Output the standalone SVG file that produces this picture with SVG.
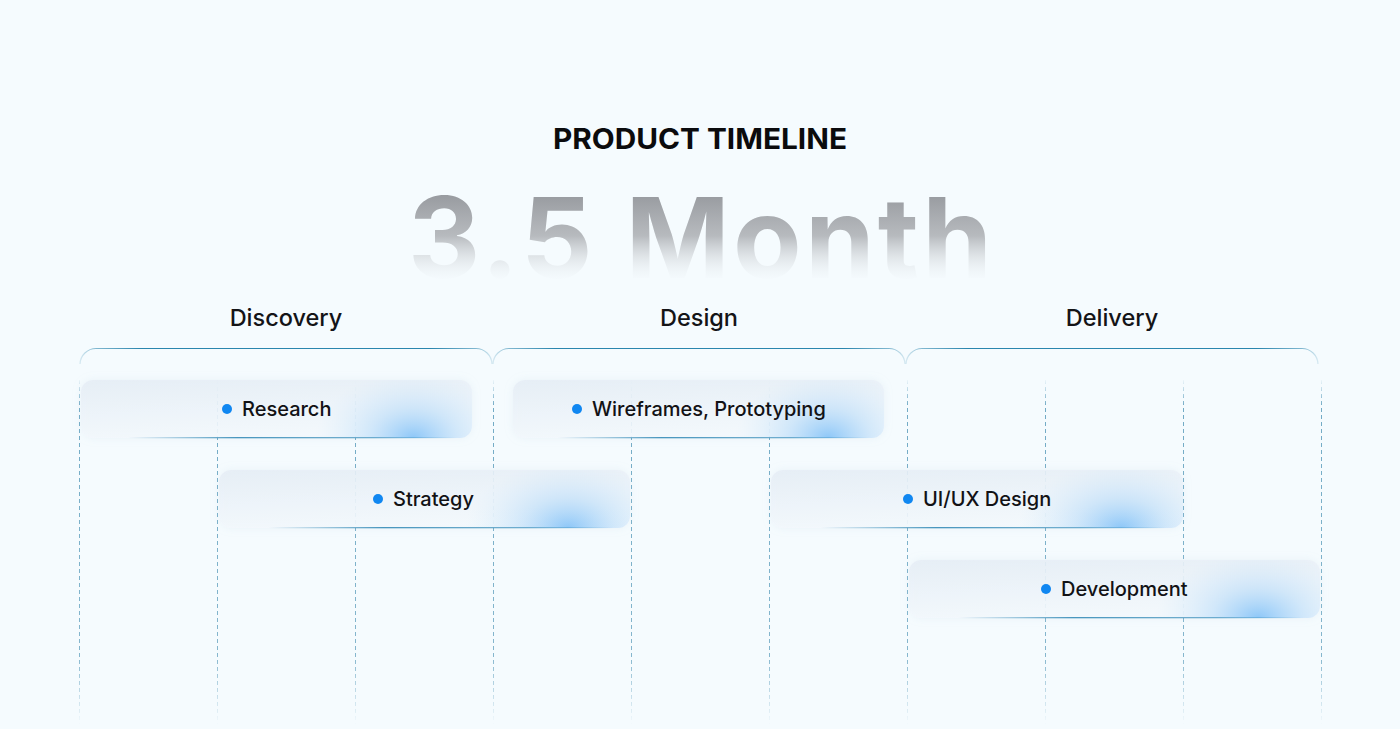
<svg xmlns="http://www.w3.org/2000/svg" width="1400" height="729" viewBox="0 0 1400 729">
  <defs>
    <style>
      .title { font-family: Inter, "Liberation Sans", sans-serif; font-weight: 700; font-size: 28px; fill: #0b0b0d; }
      .big { font-family: Inter, "Liberation Sans", sans-serif; font-weight: 700; font-size: 112px; fill: url(#bigFill); }
      .phase { font-family: Inter, "Liberation Sans", sans-serif; font-weight: 500; font-size: 23.5px; fill: #141417; }
      .task { font-family: Inter, "Liberation Sans", sans-serif; font-weight: 500; font-size: 20px; fill: #121215; }
      .dot { fill: #1087f1; }
      .bracket { fill: none; stroke: url(#bracketStroke); stroke-width: 1.2; }
      .grid line { stroke: url(#gridStroke); stroke-width: 1; stroke-dasharray: 4 3; }
      .bar { fill: url(#barFill); filter: url(#shadow); }
      .glow { fill: url(#glowFill); }
      .edge { fill: url(#edgeFill); }
    </style>
    <linearGradient id="bigFill" gradientUnits="userSpaceOnUse" x1="0" y1="190" x2="0" y2="282">
      <stop offset="0" stop-color="#94979c" stop-opacity="1"/>
      <stop offset="0.5" stop-color="#b0b3b7" stop-opacity="0.9"/>
      <stop offset="1" stop-color="#e9eef2" stop-opacity="0"/>
    </linearGradient>
    <linearGradient id="bracketStroke" x1="0" y1="0" x2="1" y2="0">
      <stop offset="0" stop-color="#1f7fa9" stop-opacity="0.15"/>
      <stop offset="0.04" stop-color="#1f7fa9" stop-opacity="0.55"/>
      <stop offset="0.15" stop-color="#1f7fa9" stop-opacity="0.95"/>
      <stop offset="0.85" stop-color="#1f7fa9" stop-opacity="0.95"/>
      <stop offset="0.96" stop-color="#1f7fa9" stop-opacity="0.55"/>
      <stop offset="1" stop-color="#1f7fa9" stop-opacity="0.15"/>
    </linearGradient>
    <linearGradient id="gridStroke" gradientUnits="userSpaceOnUse" x1="0" y1="378" x2="0" y2="725">
      <stop offset="0" stop-color="#3a88ad" stop-opacity="0"/>
      <stop offset="0.08" stop-color="#3a88ad" stop-opacity="0.7"/>
      <stop offset="0.8" stop-color="#3a88ad" stop-opacity="0.6"/>
      <stop offset="1" stop-color="#3a88ad" stop-opacity="0"/>
    </linearGradient>
    <linearGradient id="barFill" x1="0" y1="0" x2="0.3" y2="1">
      <stop offset="0" stop-color="#e6eef6" stop-opacity="0.9"/>
      <stop offset="1" stop-color="#f4f9fd" stop-opacity="0.9"/>
    </linearGradient>
    <radialGradient id="glowFill" cx="0" cy="0" r="1" gradientTransform="translate(0.85 1) scale(0.25 1.15)">
      <stop offset="0" stop-color="#62b2f6" stop-opacity="0.7"/>
      <stop offset="0.45" stop-color="#93c9f7" stop-opacity="0.35"/>
      <stop offset="1" stop-color="#c6e3fa" stop-opacity="0"/>
    </radialGradient>
    <linearGradient id="edgeFill" x1="0" y1="0" x2="1" y2="0">
      <stop offset="0.12" stop-color="#2a85b3" stop-opacity="0"/>
      <stop offset="0.4" stop-color="#2a85b3" stop-opacity="0.85"/>
      <stop offset="0.75" stop-color="#2a85b3" stop-opacity="0.6"/>
      <stop offset="0.96" stop-color="#2a85b3" stop-opacity="0"/>
    </linearGradient>
    <filter id="shadow" x="-10%" y="-40%" width="120%" height="180%">
      <feDropShadow dx="0" dy="0" stdDeviation="4" flood-color="#a9c2d6" flood-opacity="0.18"/>
    </filter>
  </defs>

  <rect x="0" y="0" width="1400" height="729" fill="#f5fbfe"/>

  <g id="header">
    <text class="title" x="700" y="149" text-anchor="middle" textLength="294" lengthAdjust="spacingAndGlyphs">PRODUCT TIMELINE</text>
    <text class="big" x="700" y="278" text-anchor="middle" textLength="584" lengthAdjust="spacing">3.5 Month</text>
  </g>

  <g id="grid" class="grid">
    <line x1="79.5" y1="380" x2="79.5" y2="725"/>
    <line x1="217.5" y1="380" x2="217.5" y2="725"/>
    <line x1="355.5" y1="380" x2="355.5" y2="725"/>
    <line x1="493.5" y1="380" x2="493.5" y2="725"/>
    <line x1="631.5" y1="380" x2="631.5" y2="725"/>
    <line x1="769.5" y1="380" x2="769.5" y2="725"/>
    <line x1="907.5" y1="380" x2="907.5" y2="725"/>
    <line x1="1045.5" y1="380" x2="1045.5" y2="725"/>
    <line x1="1183.5" y1="380" x2="1183.5" y2="725"/>
    <line x1="1321.5" y1="380" x2="1321.5" y2="725"/>
  </g>

  <g id="phase-discovery">
    <path class="bracket" d="M80,364 A16,16 0 0 1 96,348.5 H476 A16,16 0 0 1 492,364"/>
    <text class="phase" x="286" y="326" text-anchor="middle">Discovery</text>
  </g>
  <g id="phase-design">
    <path class="bracket" d="M493,364 A16,16 0 0 1 509,348.5 H889 A16,16 0 0 1 905,364"/>
    <text class="phase" x="699" y="326" text-anchor="middle">Design</text>
  </g>
  <g id="phase-delivery">
    <path class="bracket" d="M906,364 A16,16 0 0 1 922,348.5 H1302 A16,16 0 0 1 1318,364"/>
    <text class="phase" x="1112" y="326" text-anchor="middle">Delivery</text>
  </g>

  <g id="task-research">
    <rect class="bar" x="81" y="380" width="391" height="58" rx="12"/>
    <rect class="glow" x="81" y="380" width="391" height="58" rx="12"/>
    <rect class="edge" x="81" y="437" width="391" height="1.3"/>
    <circle class="dot" cx="227" cy="409" r="5"/>
    <text class="task" x="242" y="416">Research</text>
  </g>

  <g id="task-wireframes">
    <rect class="bar" x="513" y="380" width="371" height="58" rx="12"/>
    <rect class="glow" x="513" y="380" width="371" height="58" rx="12"/>
    <rect class="edge" x="513" y="437" width="371" height="1.3"/>
    <circle class="dot" cx="577" cy="409" r="5"/>
    <text class="task" x="592" y="416">Wireframes, Prototyping</text>
  </g>

  <g id="task-strategy">
    <rect class="bar" x="219" y="470" width="411" height="58" rx="12"/>
    <rect class="glow" x="219" y="470" width="411" height="58" rx="12"/>
    <rect class="edge" x="219" y="527" width="411" height="1.3"/>
    <circle class="dot" cx="378" cy="499" r="5"/>
    <text class="task" x="393" y="506">Strategy</text>
  </g>

  <g id="task-uiux">
    <rect class="bar" x="771" y="470" width="412" height="58" rx="12"/>
    <rect class="glow" x="771" y="470" width="412" height="58" rx="12"/>
    <rect class="edge" x="771" y="527" width="412" height="1.3"/>
    <circle class="dot" cx="908" cy="499" r="5"/>
    <text class="task" x="923" y="506">UI/UX Design</text>
  </g>

  <g id="task-development">
    <rect class="bar" x="909" y="560" width="411" height="58" rx="12"/>
    <rect class="glow" x="909" y="560" width="411" height="58" rx="12"/>
    <rect class="edge" x="909" y="617" width="411" height="1.3"/>
    <circle class="dot" cx="1046" cy="589" r="5"/>
    <text class="task" x="1061" y="596">Development</text>
  </g>
</svg>
